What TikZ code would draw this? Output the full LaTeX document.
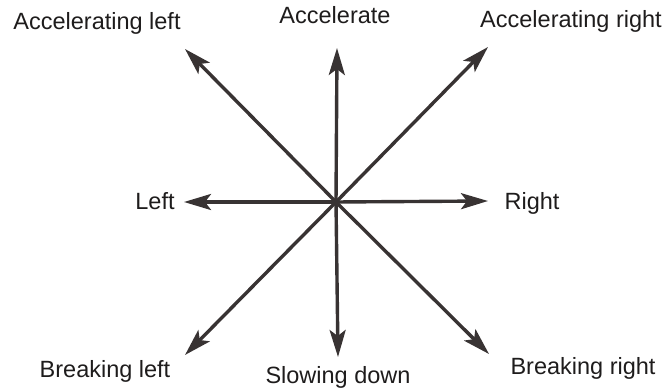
\documentclass[tikz,border=0pt]{standalone}
\usepackage{fontspec}
\setmainfont{Liberation Sans}
\usetikzlibrary{arrows.meta}
\definecolor{ink}{HTML}{383333}
\definecolor{txt}{HTML}{1E1C1C}
\begin{document}
\begin{tikzpicture}[x=1pt,y=1pt,every node/.style={font=\fontsize{23.5}{28}\selectfont, text=txt}]
  \tikzset{
    dirarrow/.style={draw=ink, line width=3.4pt, -{Stealth[length=27pt,width=16pt,inset=6pt]}},
    lbl/.style={anchor=base, inner sep=0pt}
  }
  \useasboundingbox (0,0) rectangle (668,388);
  \coordinate (c) at (336,186);
  % arrow tips
  \coordinate (up) at (337,340);
  \coordinate (down) at (338,31);
  \coordinate (left) at (184,186);
  \coordinate (right) at (488,187);
  \coordinate (upleft) at (185,339);
  \coordinate (upright) at (488,341);
  \coordinate (downleft) at (185,33);
  \coordinate (downright) at (489,34);
  \draw[dirarrow] (c) -- (up);
  \draw[dirarrow] (c) -- (down);
  \draw[dirarrow] (c) -- (left);
  \draw[dirarrow] (c) -- (right);
  \draw[dirarrow] (c) -- (upleft);
  \draw[dirarrow] (c) -- (upright);
  \draw[dirarrow] (c) -- (downleft);
  \draw[dirarrow] (c) -- (downright);
  % labels
  \node[lbl] (accl) at (97,358) {Accelerating left};
  \node[lbl] (acc) at (335,364) {Accelerate};
  \node[lbl] (accr) at (571,360) {Accelerating right};
  \node[lbl] (l) at (155,178) {Left};
  \node[lbl] (r) at (532,178) {Right};
  \node[lbl] (brl) at (105,11) {Breaking left};
  \node[lbl] (slow) at (338,5) {Slowing down};
  \node[lbl] (brr) at (583,14) {Breaking right};
\end{tikzpicture}
\end{document}
